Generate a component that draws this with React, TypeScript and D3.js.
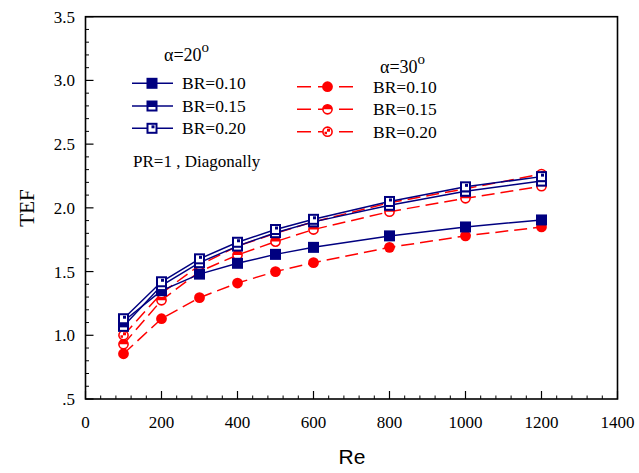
import React from "react";
import * as d3 from "d3";

const reValues = [100, 200, 300, 400, 500, 600, 800, 1000, 1200];
const a20br10 = [1.11, 1.35, 1.48, 1.565, 1.635, 1.69, 1.78, 1.85, 1.905];
const a20br15 = [1.07, 1.39, 1.57, 1.70, 1.805, 1.89, 2.02, 2.13, 2.21];
const a20br20 = [1.13, 1.42, 1.60, 1.73, 1.83, 1.91, 2.05, 2.165, 2.245];
const a30br10 = [0.855, 1.13, 1.295, 1.41, 1.50, 1.57, 1.69, 1.78, 1.85];
const a30br15 = [0.93, 1.275, 1.50, 1.63, 1.735, 1.83, 1.97, 2.075, 2.17];
const a30br20 = [1.0, 1.33, 1.55, 1.70, 1.80, 1.89, 2.04, 2.15, 2.265];

const xTicks = [0, 200, 400, 600, 800, 1000, 1200, 1400];
const yTicks = [0.5, 1.0, 1.5, 2.0, 2.5, 3.0, 3.5];
const yTickLabels = [".5", "1.0", "1.5", "2.0", "2.5", "3.0", "3.5"];
const legendLabels = ["BR=0.10", "BR=0.15", "BR=0.20"];

const BLUE = "#000080";
const RED = "#ff0000";
const W = 639, H = 473;

const x = d3.scaleLinear().domain([0, 1400]).range([85.5, 617.5]);
const y = d3.scaleLinear().domain([0.5, 3.5]).range([399, 16.7]);

type Kind = 0 | 1 | 2;

function Square({ cx, cy, kind }: { cx: number; cy: number; kind: Kind }) {
  const s = 11;
  return (
    <g>
      <rect x={cx - s / 2} y={cy - s / 2} width={s} height={s} fill={BLUE} />
      {kind === 1 && <rect x={cx - 3.5} y={cy + 1} width={7} height={2.5} fill="#fff" />}
      {kind === 2 && (
        <g>
          <rect x={cx - 3.5} y={cy - 3.5} width={7} height={7} fill="#fff" />
          <rect x={cx - 0.5} y={cy - 3} width={3} height={3} fill={BLUE} />
        </g>
      )}
    </g>
  );
}

function Circle({ cx, cy, kind }: { cx: number; cy: number; kind: Kind }) {
  const r = 5.4;
  if (kind === 0) return <circle cx={cx} cy={cy} r={r} fill={RED} />;
  if (kind === 1)
    return (
      <g>
        <circle cx={cx} cy={cy} r={r - 0.8} fill="#fff" stroke={RED} strokeWidth={1.6} />
        <path d={`M${cx - r + 0.8},${cy} A${r - 0.8},${r - 0.8} 0 0 1 ${cx + r - 0.8},${cy} Z`} fill={RED} />
      </g>
    );
  return (
    <g>
      <circle cx={cx} cy={cy} r={r - 0.8} fill="#fff" stroke={RED} strokeWidth={1.6} />
      <rect x={cx - 0.5} y={cy - 3} width={3} height={3} fill={RED} />
      <rect x={cx - 3} y={cy} width={2.5} height={2.5} fill={RED} />
    </g>
  );
}

export default function App() {
  const line = d3
    .line<[number, number]>()
    .x((d) => x(d[0]))
    .y((d) => y(d[1]));
  const blueSeries = [a20br10, a20br15, a20br20];
  const redSeries = [a30br10, a30br15, a30br20];
  const pts = (vals: number[]) => reValues.map((r, i) => [r, vals[i]] as [number, number]);

  const xMinor: number[] = d3.range(0, 1401, 40).filter((v) => v % 200 !== 0);
  const yMinor: number[] = d3.range(5, 36, 1).map((v) => v / 10).filter((v) => Math.round(v * 10) % 5 !== 0);

  const [x0, x1] = x.range();
  const [y0, y1] = y.range();

  const serif = "'Liberation Serif', 'Times New Roman', serif";
  const sans = "'Liberation Sans', Arial, sans-serif";

  const legBlueRows = [83.3, 106, 128.3];
  const legRedRows = [86.7, 109.3, 131.7];

  return (
    <svg width={W} height={H} style={{ position: "absolute", left: 0, top: 0, background: "#fff" }}>
      <rect x={0} y={0} width={W} height={H} fill="#fff" />
      {redSeries.map((s, i) => (
        <path key={"rl" + i} d={line(pts(s)) || ""} fill="none" stroke={RED} strokeWidth={1.5} strokeDasharray="13,6" />
      ))}
      {blueSeries.map((s, i) => (
        <path key={"bl" + i} d={line(pts(s)) || ""} fill="none" stroke={BLUE} strokeWidth={1.5} />
      ))}
      {redSeries.map((s, i) =>
        pts(s).map((p, j) => <Circle key={`rc${i}-${j}`} cx={x(p[0])} cy={y(p[1])} kind={i as Kind} />)
      )}
      {blueSeries.map((s, i) =>
        pts(s).map((p, j) => <Square key={`bs${i}-${j}`} cx={x(p[0])} cy={y(p[1])} kind={i as Kind} />)
      )}

      <rect x={x0} y={y1} width={x1 - x0} height={y0 - y1} fill="none" stroke="#000" strokeWidth={1.6} />
      {xTicks.map((t) => (
        <line key={"xt" + t} x1={x(t)} x2={x(t)} y1={y0} y2={y0 - 8} stroke="#000" strokeWidth={1.2} />
      ))}
      {xMinor.map((t) => (
        <line key={"xm" + t} x1={x(t)} x2={x(t)} y1={y0} y2={y0 - 3.5} stroke="#000" strokeWidth={1} />
      ))}
      {yTicks.map((t) => (
        <line key={"yt" + t} x1={x0} x2={x0 + 8} y1={y(t)} y2={y(t)} stroke="#000" strokeWidth={1.2} />
      ))}
      {yMinor.map((t) => (
        <line key={"ym" + t} x1={x0} x2={x0 + 3.5} y1={y(t)} y2={y(t)} stroke="#000" strokeWidth={1} />
      ))}
      {xTicks.map((t) => (
        <text key={"xl" + t} x={x(t)} y={428} textAnchor="middle" fontFamily={serif} fontSize={17}>
          {t}
        </text>
      ))}
      {yTicks.map((t, i) => (
        <text key={"yl" + t} x={75} y={y(t) + 6} textAnchor="end" fontFamily={serif} fontSize={17}>
          {yTickLabels[i]}
        </text>
      ))}
      <text x={352} y={464} textAnchor="middle" fontFamily={sans} fontSize={21}>
        Re
      </text>
      <text transform="translate(34,208) rotate(-90)" textAnchor="middle" fontFamily={serif} fontSize={21}>
        TEF
      </text>

      <text x={164} y={61} fontFamily={serif} fontSize={18}>
        α=20<tspan dy={-9} fontSize={15}>o</tspan>
      </text>
      {legBlueRows.map((yy, i) => (
        <g key={"lb" + i}>
          <line x1={132} x2={173} y1={yy} y2={yy} stroke={BLUE} strokeWidth={1.5} />
          <Square cx={152} cy={yy} kind={i as Kind} />
          <text x={182} y={yy + 6} fontFamily={serif} fontSize={17.5}>
            {legendLabels[i]}
          </text>
        </g>
      ))}
      <text x={133} y={167} fontFamily={serif} fontSize={17}>
        PR=1 , Diagonally
      </text>

      <text x={380} y={73} fontFamily={serif} fontSize={18}>
        α=30<tspan dy={-9} fontSize={15}>o</tspan>
      </text>
      {legRedRows.map((yy, i) => (
        <g key={"lr" + i}>
          <line x1={297} x2={353} y1={yy} y2={yy} stroke={RED} strokeWidth={1.5} strokeDasharray="14,7" />
          <Circle cx={327.5} cy={yy} kind={i as Kind} />
          <text x={373} y={yy + 6} fontFamily={serif} fontSize={17.5}>
            {legendLabels[i]}
          </text>
        </g>
      ))}
    </svg>
  );
}
